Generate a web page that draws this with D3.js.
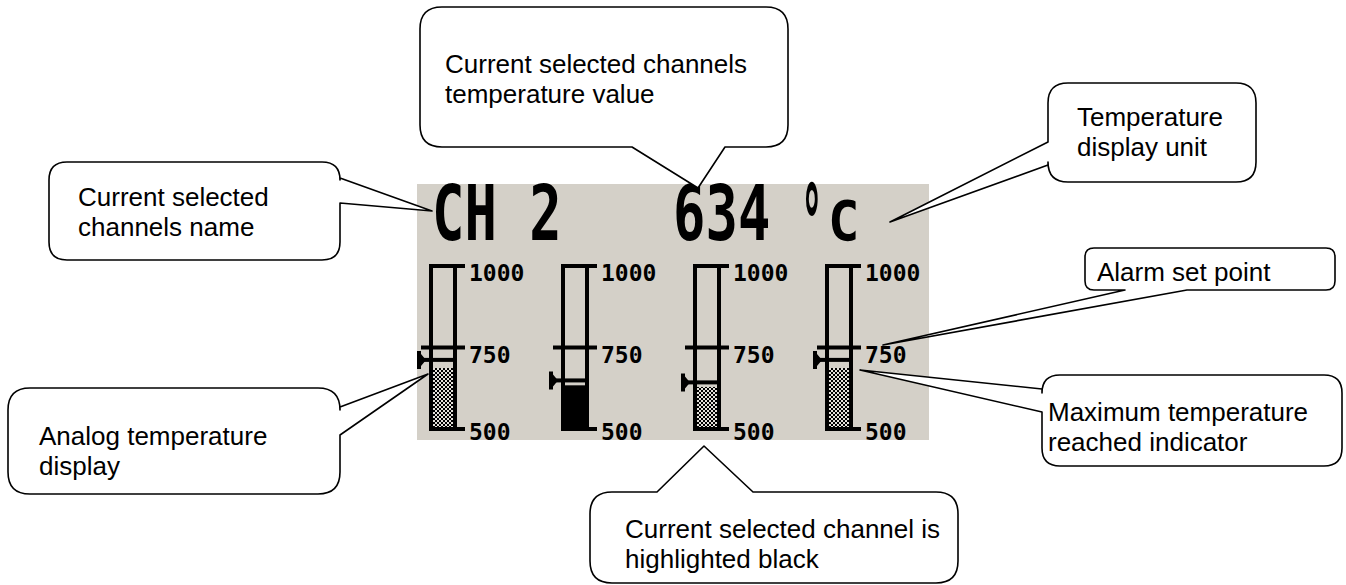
<!DOCTYPE html>
<html>
<head>
<meta charset="utf-8">
<script src="https://cdn.jsdelivr.net/npm/d3@7"></script>
<style>
  html, body { margin: 0; padding: 0; background: #fff; }
  svg { display: block; }
</style>
</head>
<body>
<svg id="chart" width="1346" height="585"></svg>
<script>
const channelNames = ["CH 1", "CH 2", "CH 3", "CH 4"];
const currentTemps = [687, 634, 629, 687];
const maxTemps = [712, 649, 643, 712];
const scaleTicks = [1000, 750, 500];
const selectedChannel = 1;
const unitDegree = "°";
const unitLetter = "C";
const calloutTexts = [
  ["Current selected", "channels name"],
  ["Current selected channels", "temperature value"],
  ["Temperature", "display unit"],
  ["Alarm set point"],
  ["Maximum temperature", "reached indicator"],
  ["Analog temperature", "display"],
  ["Current selected channel is", "highlighted black"]
];

// layout of the callouts (box, corner, tail, text start)
const calloutLayout = [
  { box: [49, 162, 340, 260], r: 18, side: "right", a: 178, b: 203, tip: [432, 211], tx: 78, ty: 206 },
  { box: [420, 7, 788, 147], r: 22, side: "bottom", a: 725, b: 632, tip: [698, 188], tx: 445, ty: 73 },
  { box: [1048, 83, 1256, 182], r: 20, side: "left", a: 165, b: 142, tip: [890, 222], tx: 1077, ty: 126 },
  { box: [1085, 248, 1335, 290], r: 9, side: "bottom", a: 1187, b: 1125, tip: [883, 345], tx: 1097, ty: 281 },
  { box: [1042, 375, 1342, 466], r: 18, side: "left", a: 412, b: 389, tip: [860, 370], tx: 1048, ty: 421 },
  { box: [8, 388, 340, 494], r: 22, side: "right", a: 407, b: 435, tip: [428, 374], tx: 39, ty: 445 },
  { box: [590, 492, 958, 583], r: 22, side: "top", a: 657, b: 753, tip: [704, 446], tx: 625, ty: 538 }
];

const LCD = { x: 417, y: 184, w: 512, h: 256 };
const LINE_H = 30;
const LCD_FONT = "'DejaVu Sans Mono', monospace";
const TEXT_FONT = "'Liberation Sans', Arial, sans-serif";

const svg = d3.select("#chart");

const defs = svg.append("defs");
const pat = defs.append("pattern")
  .attr("id", "checker")
  .attr("patternUnits", "userSpaceOnUse")
  .attr("width", 4)
  .attr("height", 4);
pat.append("rect").attr("width", 4).attr("height", 4).attr("fill", "#000");
pat.append("rect").attr("width", 2).attr("height", 2).attr("fill", "#e4e1da");
pat.append("rect").attr("x", 2).attr("y", 2).attr("width", 2).attr("height", 2).attr("fill", "#e4e1da");

// LCD panel
svg.append("rect")
  .attr("x", LCD.x).attr("y", LCD.y)
  .attr("width", LCD.w).attr("height", LCD.h)
  .attr("fill", "#d4d0c8");

// header: channel name, value and unit
svg.append("text")
  .attr("transform", "translate(432,240) scale(0.7,1)")
  .style("font-family", LCD_FONT).style("font-weight", "bold")
  .style("font-size", "77px")
  .text(channelNames[selectedChannel]);

svg.append("text")
  .attr("transform", "translate(673,240) scale(0.7,1)")
  .style("font-family", LCD_FONT).style("font-weight", "bold")
  .style("font-size", "77px")
  .text(currentTemps[selectedChannel]);

svg.append("text")
  .attr("transform", "translate(801,260) scale(0.6,1.75)")
  .style("font-family", LCD_FONT).style("font-weight", "bold")
  .style("font-size", "60px")
  .text(unitDegree);

svg.append("text")
  .attr("transform", "translate(828,240) scale(0.95,1)")
  .style("font-family", LCD_FONT).style("font-weight", "bold")
  .style("font-size", "55px")
  .text(unitLetter);

// bar graphs
const y = d3.scaleLinear().domain([500, 1000]).range([429, 266]);
const x = d3.scaleBand().domain(d3.range(channelNames.length)).range([429, 429 + 132 * 4]);
const yTop = y(1000), yBottom = y(500);

const bars = svg.selectAll(".bar")
  .data(channelNames.map((name, i) => ({ name, i, cur: currentTemps[i], max: maxTemps[i] })))
  .join("g")
  .attr("class", "bar")
  .attr("transform", d => "translate(" + x(d.i) + ",0)");

// level fill
bars.append("rect")
  .attr("x", d => d.i === selectedChannel ? 0 : 4)
  .attr("width", d => d.i === selectedChannel ? 28 : 20)
  .attr("y", d => y(d.cur))
  .attr("height", d => yBottom + 2 - y(d.cur))
  .attr("fill", d => d.i === selectedChannel ? "#000" : "url(#checker)");

// frame
bars.append("rect").attr("x", 0).attr("y", yTop - 2).attr("width", 4).attr("height", yBottom - yTop + 4);
bars.append("rect").attr("x", 24).attr("y", yTop - 2).attr("width", 4).attr("height", yBottom - yTop + 4);

// scale ticks and labels
bars.each(function() {
  const g = d3.select(this);
  scaleTicks.forEach(t => {
    const mid = t !== 1000 && t !== 500;
    g.append("rect")
      .attr("x", mid ? -8 : 0)
      .attr("y", y(t) - 2)
      .attr("width", mid ? 44 : 36)
      .attr("height", 4);
    g.append("text")
      .attr("x", 40)
      .attr("y", t === 500 ? 440 : y(t) + 15)
      .style("font-family", LCD_FONT).style("font-weight", "bold")
      .style("font-size", "23px")
      .text(t);
  });
});

// maximum reached line with pointer
bars.append("rect")
  .attr("x", -8).attr("y", d => y(d.max) - 2)
  .attr("width", 36).attr("height", 4);
bars.append("path")
  .attr("d", d => {
    const m = y(d.max);
    return "M-12," + (m - 9) + "H-8V" + (m - 6) + "L-3," + m + "L-8," + (m + 6) +
      "V" + (m + 9) + "H-12Z";
  })
  .attr("fill", "#000");

// callouts
function calloutPath(c) {
  const [x0, y0, x1, y1] = c.box, r = c.r, t = c.tip;
  let p = "M" + (x0 + r) + "," + y0;
  if (c.side === "top") p += "L" + c.a + "," + y0 + "L" + t + "L" + c.b + "," + y0;
  p += "L" + (x1 - r) + "," + y0 + "Q" + x1 + "," + y0 + " " + x1 + "," + (y0 + r);
  if (c.side === "right") p += "L" + x1 + "," + c.a + "L" + t + "L" + x1 + "," + c.b;
  p += "L" + x1 + "," + (y1 - r) + "Q" + x1 + "," + y1 + " " + (x1 - r) + "," + y1;
  if (c.side === "bottom") p += "L" + c.a + "," + y1 + "L" + t + "L" + c.b + "," + y1;
  p += "L" + (x0 + r) + "," + y1 + "Q" + x0 + "," + y1 + " " + x0 + "," + (y1 - r);
  if (c.side === "left") p += "L" + x0 + "," + c.a + "L" + t + "L" + x0 + "," + c.b;
  p += "L" + x0 + "," + (y0 + r) + "Q" + x0 + "," + y0 + " " + (x0 + r) + "," + y0 + "Z";
  return p;
}

const callouts = svg.selectAll(".callout")
  .data(calloutLayout.map((c, i) => Object.assign({ lines: calloutTexts[i] }, c)))
  .join("g")
  .attr("class", "callout");

callouts.append("path")
  .attr("d", calloutPath)
  .attr("fill", "#fff")
  .attr("stroke", "#000")
  .attr("stroke-width", 1.6)
  .attr("stroke-linejoin", "round");

callouts.append("text")
  .style("font-family", TEXT_FONT)
  .style("font-size", "26px")
  .attr("fill", "#000")
  .selectAll("tspan")
  .data(d => d.lines.map((l, k) => ({ l, x: d.tx, y: d.ty + k * LINE_H })))
  .join("tspan")
  .attr("x", d => d.x)
  .attr("y", d => d.y)
  .text(d => d.l);
</script>
</body>
</html>
